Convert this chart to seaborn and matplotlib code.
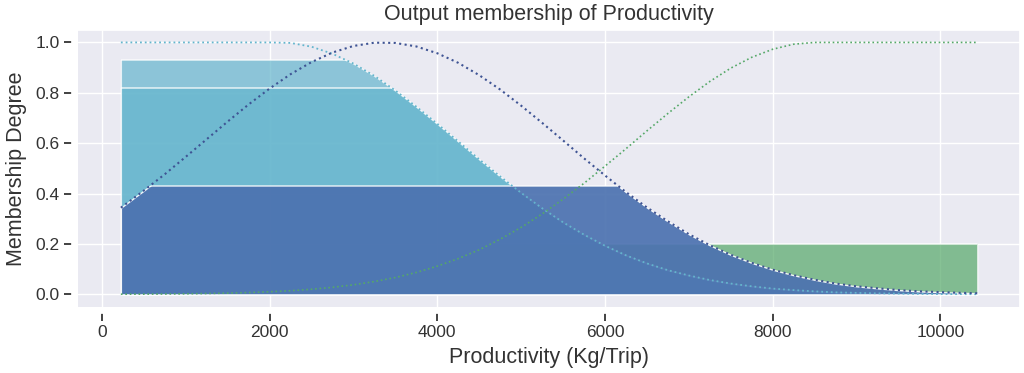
import numpy as np
import pandas as pd
import seaborn as sns
import matplotlib
matplotlib.use("Agg")
import matplotlib.pyplot as plt
from matplotlib.patches import Rectangle

# ---- data ----
productivity = [226, 500, 750, 1000, 1250, 1500, 1750, 2000, 2250, 2500, 2750, 3000,
                3250, 3500, 3750, 4000, 4250, 4500, 4750, 5000, 5250, 5500, 5750,
                6000, 6250, 6500, 6750, 7000, 7250, 7500, 7750, 8000, 8250, 8500,
                8750, 9000, 9250, 9500, 9750, 10000, 10250, 10440]

mf_low = [1.0, 1.0, 1.0, 1.0, 1.0, 1.0, 1.0, 1.0, 0.998, 0.983, 0.955, 0.916,
          0.867, 0.809, 0.745, 0.677, 0.607, 0.536, 0.468, 0.403, 0.342, 0.286,
          0.237, 0.193, 0.155, 0.123, 0.096, 0.075, 0.057, 0.043, 0.032, 0.023,
          0.017, 0.012, 0.008, 0.006, 0.004, 0.003, 0.002, 0.001, 0.001, 0.0005]

mf_medium = [0.344, 0.412, 0.477, 0.546, 0.616, 0.686, 0.754, 0.817, 0.874, 0.922,
             0.960, 0.986, 0.999, 0.998, 0.984, 0.957, 0.919, 0.870, 0.813, 0.749,
             0.681, 0.611, 0.540, 0.472, 0.406, 0.345, 0.290, 0.239, 0.195, 0.157,
             0.125, 0.098, 0.076, 0.058, 0.043, 0.032, 0.024, 0.017, 0.012, 0.009,
             0.006, 0.0045]

mf_high = [0.0006, 0.001, 0.0015, 0.0023, 0.0034, 0.005, 0.0072, 0.0104, 0.0146,
           0.0204, 0.028, 0.038, 0.051, 0.067, 0.087, 0.112, 0.142, 0.177, 0.219,
           0.266, 0.319, 0.378, 0.441, 0.509, 0.578, 0.649, 0.718, 0.784, 0.845,
           0.898, 0.941, 0.973, 0.993, 1.0, 1.0, 1.0, 1.0, 1.0, 1.0, 1.0, 1.0, 1.0]

# activation (clipping) levels of the output terms
low_levels = [0.93, 0.82]
medium_level = 0.43
high_level = 0.20

title = "Output membership of Productivity"
xlabel = "Productivity (Kg/Trip)"
ylabel = "Membership Degree"

# ---- style ----
sns.set_theme(style="darkgrid", rc={
    "xtick.bottom": True, "ytick.left": True,
    "xtick.color": ".2", "ytick.color": ".2",
})
plt.rcParams["font.family"] = ["Liberation Sans", "DejaVu Sans"]

C_LOW = "#64B5CD"
C_MED = "#4C72B0"
C_HIGH = "#55A868"

df = pd.DataFrame({"x": productivity, "low": mf_low,
                   "medium": mf_medium, "high": mf_high})
x = df["x"].to_numpy(dtype=float)

fig = plt.figure(figsize=(10.24, 3.73), dpi=100)
ax = fig.add_axes([0.0762, 0.177, 0.920, 0.743])

_z = [1.0]


def clipped_fill(y, level, color, alpha):
    z = _z[0]
    _z[0] += 0.1
    coll = ax.fill_between(x, 0, y, facecolor=color, alpha=alpha,
                           edgecolor="white", linewidth=1, zorder=z)
    rect = Rectangle((x.min() - 1000, -1), x.max() - x.min() + 2000, level + 1,
                     transform=ax.transData)
    coll.set_clip_path(rect)
    ln, = ax.plot([x.min(), x.max()], [level, level], color="white",
                  lw=1.1, alpha=0.8, zorder=z + 0.05)
    ln.set_clip_path(coll.get_paths()[0], ax.transData)
    return coll


clipped_fill(df["high"].to_numpy(), high_level, C_HIGH, 0.7)
for lv in low_levels:
    clipped_fill(df["low"].to_numpy(), lv, C_LOW, 0.7)
clipped_fill(df["medium"].to_numpy(), medium_level, C_MED, 0.92)

# membership function curves
sns.lineplot(data=df, x="x", y="low", ax=ax, color=C_LOW, linestyle=":",
             linewidth=1.3, sort=False, zorder=5)
sns.lineplot(data=df, x="x", y="medium", ax=ax, color="#3f5494", linestyle=":",
             linewidth=1.5, sort=False, zorder=5)
sns.lineplot(data=df, x="x", y="high", ax=ax, color=C_HIGH, linestyle=":",
             linewidth=1.2, sort=False, zorder=5)

ax.set_xlim(-285, 10951)
ax.set_ylim(-0.05, 1.05)
ax.set_xticks([0, 2000, 4000, 6000, 8000, 10000])
ax.set_yticks([0.0, 0.2, 0.4, 0.6, 0.8, 1.0])
for side in ("left", "bottom"):
    ax.spines[side].set_position(("outward", 4))
ax.tick_params(labelsize=12.5, length=6, width=1.3, pad=3)
ax.set_title(title, fontsize=15.5, color=".2", pad=7)
ax.set_xlabel(xlabel, fontsize=15.5, color=".2", labelpad=5)
ax.set_ylabel(ylabel, fontsize=15.5, color=".2", labelpad=6)

fig.savefig("out.png", dpi=100)
